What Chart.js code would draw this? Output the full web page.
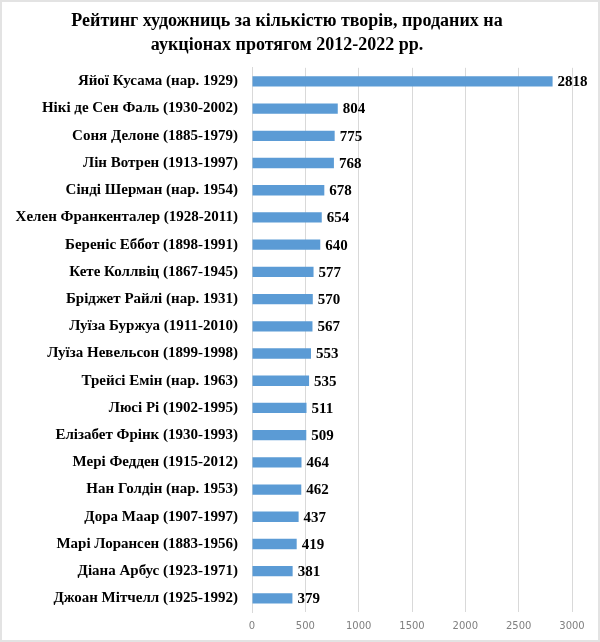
<!DOCTYPE html>
<html>
<head>
<meta charset="utf-8">
<script src="https://cdn.jsdelivr.net/npm/chart.js@4"></script>
<style>
    html, body { margin: 0; padding: 0; background: #fff; }
    #wrap {
        width: 600px; height: 642px; box-sizing: border-box;
        border: 2px solid #e3e3e3; position: relative;
    }
    canvas { display: block; }
</style>
</head>
<body>
<div id="wrap"><canvas id="chart" width="596" height="638"></canvas></div>
<script>
/* ===============================
   DATA
=================================*/

const artists = [
    "Яйої Кусама (нар. 1929)",
    "Нікі де Сен Фаль (1930-2002)",
    "Соня Делоне (1885-1979)",
    "Лін Вотрен (1913-1997)",
    "Сінді Шерман (нар. 1954)",
    "Хелен Франкенталер (1928-2011)",
    "Береніс Еббот (1898-1991)",
    "Кете Коллвіц (1867-1945)",
    "Бріджет Райлі (нар. 1931)",
    "Луїза Буржуа (1911-2010)",
    "Луїза Невельсон (1899-1998)",
    "Трейсі Емін (нар. 1963)",
    "Люсі Рі (1902-1995)",
    "Елізабет Фрінк (1930-1993)",
    "Мері Федден (1915-2012)",
    "Нан Голдін (нар. 1953)",
    "Дора Маар (1907-1997)",
    "Марі Лорансен (1883-1956)",
    "Діана Арбус (1923-1971)",
    "Джоан Мітчелл (1925-1992)"
];

const worksSold = [2818, 804, 775, 768, 678, 654, 640, 577, 570, 567,
                   553, 535, 511, 509, 464, 462, 437, 419, 381, 379];

const xTicks = [0, 500, 1000, 1500, 2000, 2500, 3000];

const titleLines = [
    "Рейтинг художниць за кількістю творів, проданих на",
    "аукціонах протягом 2012-2022 рр."
];

/* ===============================
   VALUE LABELS
=================================*/

const valueLabels = {
    id: "valueLabels",
    afterDatasetsDraw(chart) {
        const ctx = chart.ctx;
        const meta = chart.getDatasetMeta(0);
        ctx.save();
        ctx.font = "bold 15px 'Liberation Serif', serif";
        ctx.fillStyle = "#000";
        ctx.textBaseline = "middle";
        ctx.textAlign = "left";
        meta.data.forEach((bar, i) => {
            ctx.fillText(String(worksSold[i]), bar.x + 5, bar.y + 1);
        });
        ctx.restore();
    }
};

/* ===============================
   CHART
=================================*/

new Chart(document.getElementById("chart"), {
    type: "bar",
    data: {
        labels: artists,
        datasets: [{
            data: worksSold,
            backgroundColor: "#5b9bd5",
            barPercentage: 0.38,
            categoryPercentage: 1
        }]
    },
    options: {
        indexAxis: "y",
        responsive: false,
        animation: false,
        layout: { padding: { left: 0, right: 26, top: 8, bottom: 0 } },
        plugins: {
            legend: { display: false },
            tooltip: { enabled: false },
            title: {
                display: true,
                text: titleLines,
                color: "#000",
                font: { family: "'Liberation Serif', serif", size: 18, weight: "bold", lineHeight: 1.3 },
                padding: { top: 0, bottom: 11 }
            }
        },
        scales: {
            x: {
                min: 0,
                max: 3000,
                afterBuildTicks(scale) {
                    scale.ticks = xTicks.map(v => ({ value: v }));
                },
                grid: { color: "#d9d9d9", drawTicks: false },
                border: { display: false },
                ticks: {
                    color: "#808080",
                    padding: 8,
                    callback: v => String(v),
                    font: { family: "'DejaVu Sans', sans-serif", size: 10 }
                }
            },
            y: {
                grid: { display: false, drawTicks: false },
                border: { color: "#d9d9d9" },
                afterFit(scale) { scale.width = 250; },
                ticks: {
                    color: "#000",
                    padding: 14,
                    autoSkip: false,
                    font: { family: "'Liberation Serif', serif", size: 15, weight: "bold" }
                }
            }
        }
    },
    plugins: [valueLabels]
});
</script>
</body>
</html>
